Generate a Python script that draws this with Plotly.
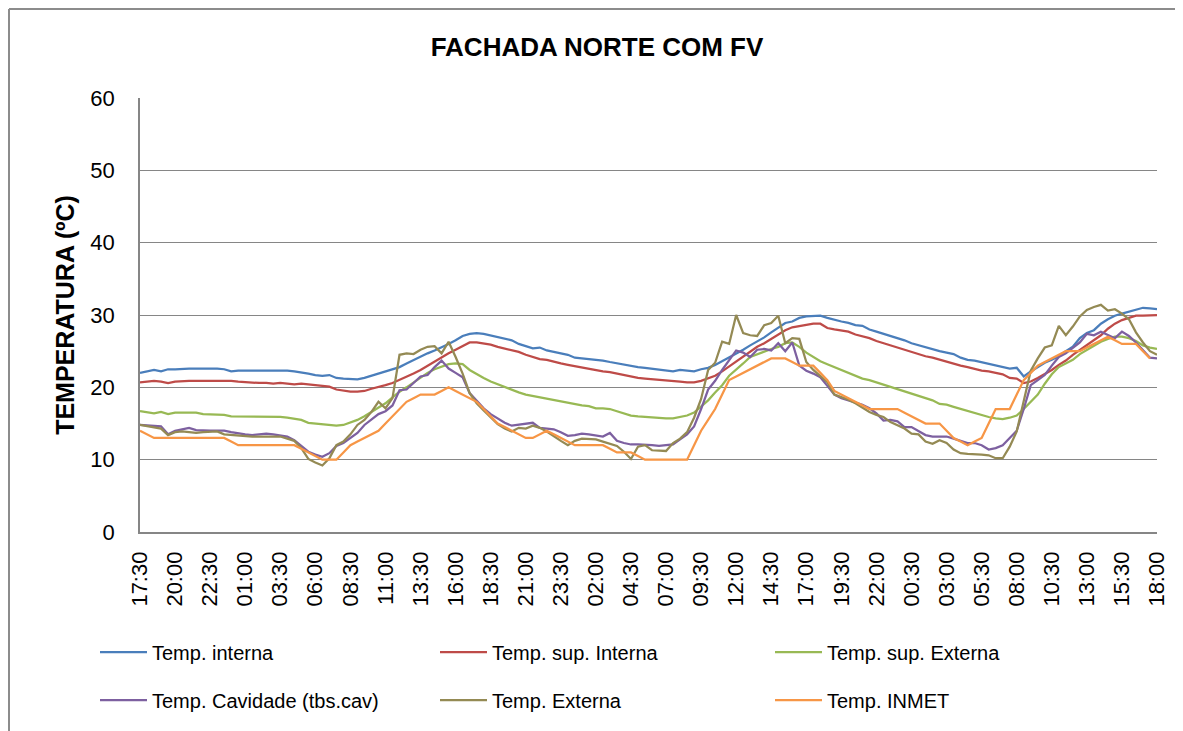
import plotly.graph_objects as go

# ---------------- data ----------------
tick_labels = ["17:30", "20:00", "22:30", "01:00", "03:30", "06:00", "08:30", "11:00",
               "13:30", "16:00", "18:30", "21:00", "23:30", "02:00", "04:30", "07:00",
               "09:30", "12:00", "14:30", "17:00", "19:30", "22:00", "00:30", "03:00",
               "05:30", "08:00", "10:30", "13:00", "15:30", "18:00"]

temp_interna = [22.0, 22.2, 22.4, 22.2, 22.5, 22.5, 22.6, 22.6, 22.6, 22.6,
                22.7, 22.6, 22.5, 22.2, 22.3, 22.3, 22.3, 22.4, 22.4, 22.4,
                22.4, 22.3, 22.2, 22.1, 21.9, 21.7, 21.6, 21.7, 21.3, 21.2,
                21.2, 21.1, 21.3, 21.6, 21.9, 22.2, 22.4, 22.8, 23.3, 23.8,
                24.3, 24.7, 25.1, 25.5, 26.0, 26.5, 27.1, 27.4, 27.5, 27.4,
                27.2, 27.0, 26.8, 26.5, 26.0, 25.7, 25.4, 25.5, 25.1, 24.9,
                24.7, 24.5, 24.1, 24.0, 24.0, 23.8, 23.7, 23.5, 23.3, 23.1,
                22.95, 22.8, 22.7, 22.6, 22.4, 22.3, 22.2, 22.4, 22.3, 22.2,
                22.5, 22.7, 23.1, 23.6, 24.1, 24.7, 25.2, 25.8, 26.3, 26.9,
                27.6, 28.3, 28.9, 29.1, 29.6, 29.8, 29.9, 29.9, 29.6, 29.3,
                29.1, 28.9, 28.6, 28.5, 28.0, 27.7, 27.4, 27.2, 26.9, 26.5,
                26.1, 25.8, 25.5, 25.3, 25.0, 24.8, 24.6, 24.1, 23.8, 23.7,
                23.5, 23.2, 23.0, 22.8, 22.6, 22.7, 21.5, 22.2, 22.8, 23.4,
                23.8, 24.3, 25.0, 25.6, 26.8, 27.5, 27.9, 28.8, 29.4, 29.9,
                30.2, 30.5, 30.7, 31.0, 30.9, 30.8]

temp_sup_interna = [20.7, 20.8, 20.9, 20.8, 20.6, 20.8, 20.9, 20.9, 20.9, 20.9,
                    21.0, 21.0, 20.9, 20.9, 20.8, 20.7, 20.6, 20.6, 20.6, 20.5,
                    20.6, 20.5, 20.4, 20.5, 20.4, 20.3, 20.2, 20.1, 19.7, 19.5,
                    19.4, 19.4, 19.5, 19.8, 20.0, 20.3, 20.6, 21.0, 21.4, 21.9,
                    22.4, 23.0, 23.6, 24.2, 24.7, 25.2, 25.7, 26.2, 26.2, 26.1,
                    25.9, 25.6, 25.4, 25.2, 24.9, 24.5, 24.2, 23.9, 23.8, 23.5,
                    23.3, 23.1, 22.9, 22.7, 22.5, 22.4, 22.2, 22.1, 21.9, 21.6,
                    21.4, 21.3, 21.2, 21.1, 21.0, 20.9, 20.9, 20.8, 20.7, 20.7,
                    20.9, 21.2, 21.6, 22.2, 22.9, 23.5, 24.2, 24.9, 25.6, 26.1,
                    26.7, 27.4, 27.9, 28.3, 28.5, 28.7, 28.8, 28.8, 28.2, 28.0,
                    27.9, 27.7, 27.3, 27.1, 26.8, 26.4, 26.1, 25.7, 25.4, 25.1,
                    24.8, 24.6, 24.3, 24.1, 23.8, 23.5, 23.3, 23.0, 22.8, 22.5,
                    22.3, 22.2, 22.0, 21.8, 21.3, 21.2, 20.6, 20.8, 21.3, 21.8,
                    22.4, 23.1, 23.7, 24.5, 25.2, 25.9, 26.6, 27.2, 28.1, 28.8,
                    29.3, 29.6, 29.9, 29.9, 30.0, 30.0]

temp_sup_externa = [16.7, 16.6, 16.4, 16.6, 16.3, 16.5, 16.5, 16.5, 16.5, 16.3,
                    16.3, 16.3, 16.2, 16.0, 16.0, 15.9, 15.9, 16.0, 16.0, 15.9,
                    15.9, 15.8, 15.6, 15.5, 15.1, 15.0, 14.8, 14.7, 14.7, 14.8,
                    15.1, 15.5, 16.0, 16.6, 17.2, 17.8, 18.6, 19.4, 20.0, 20.7,
                    21.4, 22.0, 22.5, 22.9, 23.2, 23.3, 23.2, 22.4, 21.8, 21.3,
                    20.8, 20.4, 20.0, 19.7, 19.3, 19.0, 18.8, 18.7, 18.5, 18.3,
                    18.0, 17.8, 17.6, 17.5, 17.4, 17.1, 17.1, 17.0, 16.7, 16.4,
                    16.1, 16.0, 15.9, 15.9, 15.8, 15.7, 15.7, 15.9, 16.1, 16.5,
                    17.4, 18.2, 19.3, 20.3, 21.6, 22.4, 23.3, 24.2, 24.6, 25.0,
                    25.3, 25.6, 26.1, 26.2, 25.6, 24.8, 24.2, 23.6, 23.2, 22.8,
                    22.3, 21.9, 21.5, 21.2, 21.0, 20.7, 20.4, 20.0, 19.7, 19.5,
                    19.2, 18.9, 18.6, 18.2, 17.7, 17.6, 17.3, 17.0, 16.7, 16.4,
                    16.2, 15.9, 15.7, 15.6, 15.8, 16.1, 17.0, 18.0, 19.0, 20.5,
                    21.8, 22.8, 23.3, 23.8, 24.6, 25.2, 25.8, 26.3, 26.7, 27.0,
                    27.0, 26.8, 26.4, 25.8, 25.5, 25.3]

temp_cavidade = [14.8, 14.7, 14.6, 14.6, 13.5, 14.0, 14.2, 14.4, 14.1, 14.0,
                 14.0, 14.0, 14.0, 13.8, 13.6, 13.5, 13.4, 13.5, 13.6, 13.5,
                 13.4, 13.2, 12.7, 11.9, 11.1, 10.7, 10.4, 10.9, 11.9, 12.3,
                 13.0, 13.7, 14.8, 15.6, 16.3, 16.7, 17.5, 19.6, 19.7, 20.6,
                 21.5, 21.7, 22.8, 23.7, 22.6, 22.0, 21.4, 19.2, 18.1, 17.1,
                 16.3, 15.7, 15.1, 14.7, 14.8, 14.9, 15.1, 14.4, 14.3, 14.2,
                 13.8, 13.3, 13.4, 13.6, 13.5, 13.3, 13.2, 13.7, 12.6, 12.3,
                 12.1, 12.1, 12.1, 12.0, 11.9, 12.0, 12.1, 12.8, 13.5, 14.6,
                 17.0, 19.7, 20.9, 22.4, 23.8, 25.1, 24.8, 24.2, 25.2, 25.3,
                 25.1, 26.1, 25.0, 26.2, 23.0, 22.3, 21.9, 21.4, 20.2, 19.0,
                 18.5, 18.2, 17.9, 17.6, 17.1, 16.4, 15.4, 15.5, 15.3, 14.5,
                 14.5, 14.0, 13.4, 13.2, 13.2, 13.2, 12.9, 12.6, 12.3, 12.3,
                 12.0, 11.4, 11.6, 12.0, 13.0, 14.0, 17.0, 20.3, 21.0, 21.7,
                 23.0, 24.2, 24.7, 25.4, 26.2, 27.4, 27.2, 27.7, 27.2, 26.8,
                 27.7, 27.1, 26.2, 25.1, 24.1, 24.0]

temp_externa = [14.8, 14.6, 14.4, 14.3, 13.4, 13.8, 13.9, 13.8, 13.7, 13.8,
                13.8, 13.9, 13.5, 13.4, 13.3, 13.2, 13.2, 13.2, 13.2, 13.2,
                13.2, 12.9, 12.6, 11.6, 10.1, 9.6, 9.2, 10.2, 12.0, 12.5,
                13.5, 14.8, 15.5, 16.6, 18.0, 17.1, 18.5, 24.5, 24.7, 24.6,
                25.2, 25.6, 25.7, 24.7, 26.3, 24.2, 21.9, 19.2, 17.8, 16.8,
                15.9, 14.9, 14.3, 13.9, 14.4, 14.3, 14.7, 14.4, 13.9, 13.2,
                12.6, 12.0, 12.6, 12.9, 12.9, 12.8, 12.5, 12.2, 11.9, 11.1,
                10.1, 11.8, 12.0, 11.3, 11.2, 11.2, 12.3, 12.9, 13.8, 15.8,
                18.4, 22.4, 23.4, 26.3, 26.0, 30.0, 27.5, 27.2, 27.1, 28.6,
                28.9, 29.9, 26.1, 26.8, 26.7, 23.5, 22.4, 21.5, 20.7, 19.0,
                18.7, 18.3, 17.8, 17.2, 16.6, 16.2, 15.9, 15.2, 14.8, 14.3,
                13.6, 13.5, 12.5, 12.2, 12.7, 12.3, 11.4, 10.9, 10.8, 10.8,
                10.7, 10.6, 10.2, 10.2, 11.8, 13.9, 18.0, 22.3, 24.0, 25.5,
                25.8, 28.5, 27.2, 28.4, 29.8, 30.7, 31.1, 31.4, 30.6, 30.8,
                30.2, 29.4, 27.6, 26.2, 25.0, 24.5]

temp_inmet = [14, 13.5, 13, 13, 13, 13, 13, 13, 13, 13,
              13, 13, 13, 12.5, 12, 12, 12, 12, 12, 12,
              12, 12, 12, 11.5, 11, 10.5, 10, 10, 10, 11,
              12, 12.5, 13, 13.5, 14, 15, 16, 17, 18, 18.5,
              19, 19, 19, 19.5, 20, 19.5, 19, 18.5, 18, 17,
              16, 15, 14.5, 14, 13.5, 13, 13, 13.5, 14, 13.5,
              13, 12.5, 12, 12, 12, 12, 12, 11.5, 11, 11,
              11, 10.5, 10, 10, 10, 10, 10, 10, 10, 12,
              14, 15.5, 17, 19, 21, 21.5, 22, 22.5, 23, 23.5,
              24, 24, 24, 23.5, 23, 23, 23, 22, 21, 19.5,
              19, 18.5, 18, 17.5, 17, 17, 17, 17, 17, 16.5,
              16, 15.5, 15, 15, 15, 14, 13, 12.5, 12, 12.5,
              13, 15, 17, 17, 17, 19, 21, 22, 23, 23.5,
              24, 24.5, 25, 25, 25, 25.5, 26, 26.5, 27, 26.5,
              26, 26, 26, 25, 24]

series = [
    ("Temp. interna", temp_interna, "#4A7EBB"),
    ("Temp. sup. Interna", temp_sup_interna, "#BE4B48"),
    ("Temp. sup. Externa", temp_sup_externa, "#98B954"),
    ("Temp. Cavidade (tbs.cav)", temp_cavidade, "#7D60A0"),
    ("Temp. Externa", temp_externa, "#948A54"),
    ("Temp. INMET", temp_inmet, "#F79646"),
]

FONT = "Liberation Sans"
OFF = 8                      # page body margin around the plotly div
W, H = 1183 - OFF, 731 - OFF
ML, MR, MT, MB = 140 - OFF, 26, 98 - OFF, 199
PW, PH = W - ML - MR, H - MT - MB


def px_to_paper_x(px):
    return (px - OFF - ML) / PW


def px_to_paper_y(py):
    return (H - MB - (py - OFF)) / PH


# legend anchor positions (page px) for 3 columns x 2 rows
leg_cols = [95, 435, 770]
leg_rows = [652, 700]

fig = go.Figure()
layout_legends = {}
for k, (name, vals, color) in enumerate(series):
    lname = "legend" if k == 0 else f"legend{k + 1}"
    fig.add_trace(go.Scatter(
        x=list(range(len(vals))), y=vals, mode="lines", name=name,
        line=dict(color=color, width=2.25), legend=lname,
    ))
    col = k % 3
    row = k // 3
    layout_legends[lname] = dict(
        x=px_to_paper_x(leg_cols[col]), y=px_to_paper_y(leg_rows[row]),
        xanchor="left", yanchor="middle", orientation="h",
        font=dict(family=FONT, size=20, color="#000000"),
        bgcolor="rgba(0,0,0,0)", itemwidth=47,
    )

n = len(temp_interna)
tickvals = list(range(0, n, 5))

fig.update_layout(
    width=W, height=H,
    margin=dict(l=ML, r=MR, t=MT, b=MB, autoexpand=False),
    paper_bgcolor="white", plot_bgcolor="white",
    font=dict(family=FONT, color="#000000"),
    title=dict(text="<b>FACHADA NORTE COM FV</b>", x=(597 - OFF) / W, xref="container",
               xanchor="center", y=1 - (47 - OFF) / H, yref="container", yanchor="middle",
               font=dict(family=FONT, size=26, color="#000000")),
    showlegend=True,
    xaxis=dict(range=[0, n - 1], tickmode="array", tickvals=tickvals,
               ticktext=tick_labels, tickangle=-90, showgrid=False,
               zeroline=False, showline=True, linecolor="#868686", linewidth=1.5,
               ticks="", automargin=False,
               tickfont=dict(family=FONT, size=22, color="#000000"),
               ticklabelstandoff=9),
    yaxis=dict(range=[0, 60], dtick=10, showgrid=True, gridcolor="#868686",
               gridwidth=1.2, zeroline=False, showline=True, linecolor="#868686",
               linewidth=1.5, ticks="", automargin=False,
               tickfont=dict(family=FONT, size=22, color="#000000"),
               ticklabelstandoff=19,
               title=dict(text="<b>TEMPERATURA (ºC)</b>", standoff=9,
                          font=dict(family=FONT, size=25, color="#000000"))),
    **layout_legends,
)

# outer chart frame (partially visible in reference)
fx = px_to_paper_x(OFF + 1)
fy = px_to_paper_y(OFF + 1)
fig.add_shape(type="line", xref="paper", yref="paper", x0=fx, x1=fx,
              y0=px_to_paper_y(H + OFF + 5), y1=fy, line=dict(color="#8C8C8C", width=2))
fig.add_shape(type="line", xref="paper", yref="paper", x0=fx,
              x1=px_to_paper_x(W + OFF + 5), y0=fy, y1=fy,
              line=dict(color="#8C8C8C", width=2))

fig.write_html("out.html")
